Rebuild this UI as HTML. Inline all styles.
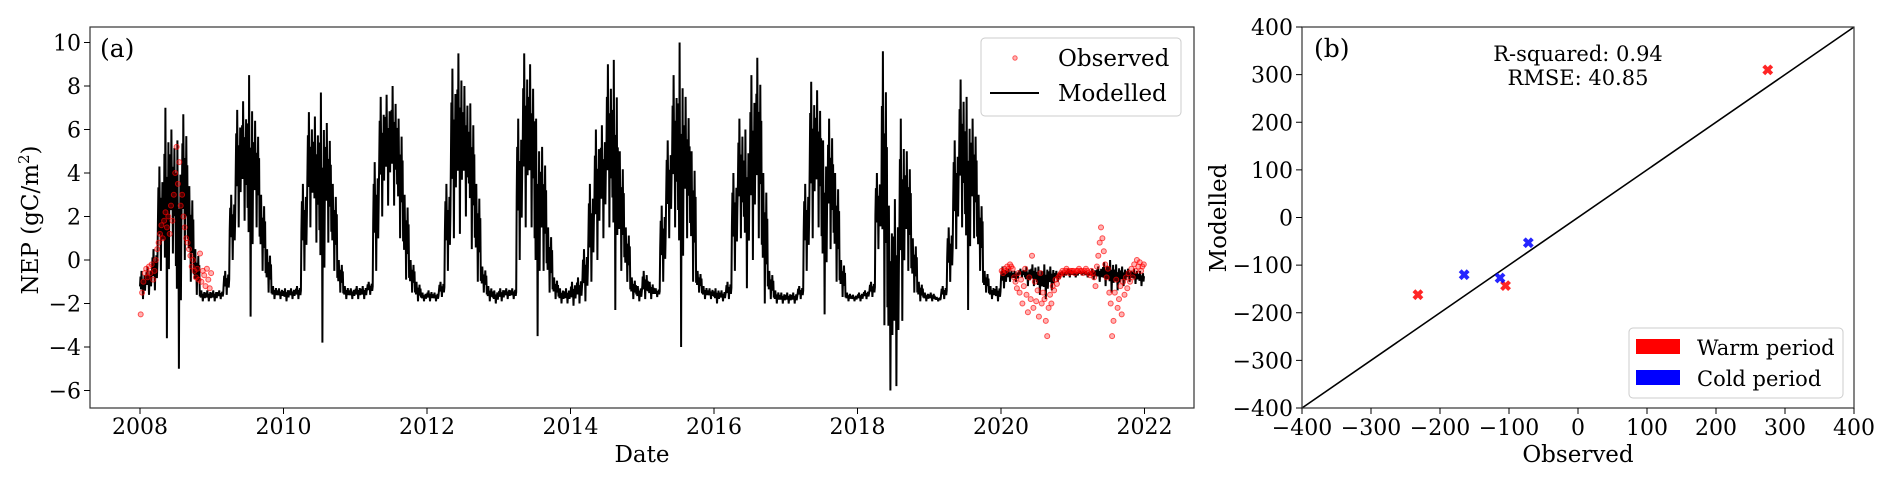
<!DOCTYPE html>
<html><head><meta charset="utf-8">
<style>
html,body{margin:0;padding:0;background:#fff;}
svg{display:block;font-family:"DejaVu Serif","Liberation Serif",serif;}
</style></head>
<body>
<svg id="fig" width="1892" height="481" viewBox="0 0 1892 481" xmlns="http://www.w3.org/2000/svg"></svg>
<script>
// ---------- Panel (a) data ----------
const years = [2008,2009,2010,2011,2012,2013,2014,2015,2016,2017,2018,2019,2020,2021];
const modelHi = [
-0.5,-0.3,0.5,4.3,7.0,6.0,5.5,6.7,3.4,0.5,-1.4,-1.4,
-1.4,-1.4,-0.5,3.0,6.9,7.3,8.5,6.4,3.0,0.5,-1.2,-1.3,
-1.3,-1.3,-1.2,3.5,6.8,6.6,7.7,6.3,3.5,0.0,-1.2,-1.3,
-1.2,-1.2,-1.0,4.5,7.5,7.6,8.0,6.5,3.0,0.0,-1.0,-1.5,
-1.4,-1.5,-1.0,3.5,8.8,9.5,8.0,7.2,3.5,-0.3,-1.2,-1.4,
-1.3,-1.3,-1.3,6.5,9.5,9.0,6.5,5.2,1.5,-0.8,-1.3,-1.3,
-1.0,-0.8,0.5,3.5,6.0,6.2,9.0,9.2,5.0,1.5,-0.8,-1.2,
-0.5,-1.0,-1.3,2.5,5.5,8.5,10.0,7.5,5.0,-0.5,-1.2,-1.3,
-1.3,-1.4,-1.0,4.0,6.5,6.0,8.5,9.3,4.0,-0.5,-1.4,-1.5,
-1.5,-1.5,-1.2,3.5,8.2,7.8,5.5,6.5,4.0,0.0,-1.5,-1.6,
-1.5,-1.4,-1.0,4.0,9.6,2.5,2.8,6.5,5.0,1.0,-1.0,-1.5,
-1.5,-1.7,-1.2,1.5,5.5,8.3,7.5,6.5,3.0,-0.5,-1.2,-1.2,
-0.3,-0.4,-0.5,-0.4,-0.3,-0.2,-0.3,-0.2,-0.3,-0.5,-0.5,-0.4,
-0.5,-0.5,-0.5,-0.4,-0.3,-0.1,0.0,-0.2,-0.3,-0.4,-0.4,-0.5];
const modelLo = [
-1.8,-1.6,-1.4,-0.5,-3.6,0.3,-5.0,0.0,-1.0,-1.6,-1.9,-1.9,
-1.9,-1.8,-1.6,0.0,1.5,1.8,-2.6,1.5,-0.5,-1.5,-1.8,-1.8,
-1.9,-1.8,-1.8,-0.5,1.5,0.8,-3.8,0.8,-0.5,-1.5,-1.8,-1.8,
-1.8,-1.8,-1.6,-0.5,2.0,2.5,2.5,1.0,-0.9,-1.5,-1.9,-1.9,
-1.9,-1.9,-1.7,-0.5,1.0,1.2,2.0,0.5,-1.0,-1.5,-1.9,-2.0,
-1.9,-1.8,-1.8,0.0,1.5,1.5,-3.5,-0.5,-1.5,-1.8,-2.0,-2.0,
-2.1,-2.0,-1.9,-1.0,0.0,1.0,1.5,-2.3,-0.5,-1.0,-1.8,-1.9,
-1.8,-1.8,-1.7,-1.0,1.0,1.5,-4.0,1.0,-1.0,-1.5,-1.8,-1.8,
-2.0,-1.9,-1.8,-0.5,1.0,-1.3,0.0,1.0,-2.0,-1.8,-2.0,-2.0,
-2.0,-2.0,-1.8,-0.5,1.0,1.5,-2.5,0.5,-1.0,-1.7,-1.9,-1.9,
-1.9,-1.8,-1.7,0.5,-3.0,-6.0,-5.8,-2.8,-0.5,-1.5,-1.9,-1.9,
-1.9,-1.9,-1.8,-1.0,0.5,1.5,-2.3,1.0,-0.5,-1.5,-1.8,-1.9,
-1.3,-1.0,-1.0,-0.8,-1.2,-1.2,-1.6,-1.8,-1.4,-1.0,-0.8,-0.8,
-0.8,-0.7,-0.8,-0.9,-1.0,-1.2,-1.5,-1.4,-1.2,-1.0,-1.1,-1.2];
const obs2008 = [
-2.5,-1.5,-1.0,-0.6,-0.4,-0.8,-0.3,-0.6,-0.2,-0.9,-0.5,0.0,
0.5,0.8,1.2,1.6,1.0,1.8,2.2,1.5,2.0,1.2,2.5,1.8,
3.0,4.0,5.2,3.5,4.5,2.5,3.0,2.0,1.5,1.0,0.8,0.5,
0.2,-0.3,0.0,-0.5,-0.8,-0.4,-0.9,0.3,-1.0,-0.5,-0.7,-1.2,-0.4,-0.9,-1.3,-0.6];
const obs2020 = [
-0.5,-0.6,-0.4,-0.5,-0.3,-0.4,-0.2,-0.3,-0.4,-0.8,-1.0,-1.3,
-0.6,-1.5,-0.9,-2.0,-1.2,-0.4,-1.6,-2.4,-0.8,-1.8,0.2,-2.2,
-1.0,-1.9,-1.4,-2.6,-0.6,-2.0,-1.5,-1.8,-2.8,-3.5,-2.2,-1.6,
-2.0,-1.2,-1.4,-0.9,-1.1,-0.8,-0.7,-0.6,-0.5,-0.6,-0.5,-0.4,-0.5,-0.6,-0.5,-0.5];
const obs2021 = [
-0.5,-0.6,-0.5,-0.5,-0.4,-0.5,-0.5,-0.6,-0.5,-0.4,-0.5,-0.6,
-0.7,-0.5,-0.6,-0.8,-1.2,-0.3,0.2,0.8,1.5,1.0,0.4,-0.2,
-0.8,-0.4,-1.5,-2.0,-3.5,-2.8,-1.5,-0.9,-2.2,-1.8,-1.2,-2.5,
-1.0,-1.6,-0.8,-1.3,-0.6,-1.0,-0.4,-0.8,-0.2,-0.5,0.0,-0.3,-0.1,-0.5,-0.3,-0.2];
const aXTicks = [2008,2010,2012,2014,2016,2018,2020,2022];
const aYTicks = [-6,-4,-2,0,2,4,6,8,10];

// ---------- Panel (b) data ----------
const warmObs = [-232,-105,275];
const warmMod = [-162,-143,310];
const coldObs = [-165,-113,-72];
const coldMod = [-120,-127,-53];
const bTicks = [-400,-300,-200,-100,0,100,200,300,400];

const NS="http://www.w3.org/2000/svg";
const svg=document.getElementById('fig');
function mk(tag,attrs,parent){const e=document.createElementNS(NS,tag);for(const k in attrs)e.setAttribute(k,attrs[k]);(parent||svg).appendChild(e);return e;}
function txt(s,attrs,parent){const e=mk('text',attrs,parent);e.textContent=s;return e;}

// ---- Panel (a) axes ----
const A={l:90,r:1194,t:27,b:408};
const ax=t=>140+(t-2008)*71.75;
const ay=v=>260-v*21.75;
const gA=mk('g',{});



// modelled line: within each month, wiggle between monthly low and high (drawing texture only)
const wig=[0.45,0.8,0.35,1.0,0.5,0.7,0.0,0.6,0.4,0.85,0.3,0.65];
let d='';
for(let m=0;m<modelHi.length;m++){
  for(let k=0;k<wig.length;k++){
    const t=2008+m/12+k/(12*wig.length);
    const v=modelLo[m]+(modelHi[m]-modelLo[m])*wig[k];
    d+=(d?'L':'M')+ax(t).toFixed(1)+','+ay(v).toFixed(1);
  }
}
const ml=mk('path',{d:d,fill:'none',stroke:'#000','stroke-width':2,'stroke-linejoin':'bevel'},gA);



// observed points
const gObs=mk('g',{fill:'rgba(255,0,0,0.3)',stroke:'rgba(255,0,0,0.65)','stroke-width':1},gA);


function plotObs(arr,y0){arr.forEach((v,i)=>{const c=mk('circle',{cx:ax(y0+(i+0.5)/52).toFixed(1),cy:ay(v).toFixed(1),r:2.5},gObs);

});}
plotObs(obs2008,2008);plotObs(obs2020,2020);plotObs(obs2021,2021);

const frA=mk('rect',{x:A.l,y:A.t,width:A.r-A.l,height:A.b-A.t,fill:'none',stroke:'#333','stroke-width':1.2},gA);


aXTicks.forEach(t=>{const x=ax(t);mk('line',{x1:x,x2:x,y1:A.b,y2:A.b+6,stroke:'#000'},gA);
const l=txt(String(t),{x:x,y:A.b+26,'text-anchor':'middle','font-size':22},gA);

});
aYTicks.forEach(v=>{const y=ay(v);mk('line',{x1:A.l-6,x2:A.l,y1:y,y2:y,stroke:'#000'},gA);
const l=txt(v<0?'\u2212'+(-v):String(v),{x:A.l-9,y:y+8,'text-anchor':'end','font-size':22},gA);

});
const xt=txt('Date',{x:(A.l+A.r)/2,y:462,'text-anchor':'middle','font-size':23},gA);


const yt=mk('text',{transform:'translate(38,220) rotate(-90)','text-anchor':'middle','font-size':23},gA);
yt.innerHTML='NEP (gC/m<tspan dy="-9" font-size="15">2</tspan><tspan dy="9">)</tspan>';


const pa=txt('(a)',{x:100,y:57,'font-size':25},gA);


// legend a
const lgA=mk('g',{},gA);


mk('rect',{x:981,y:38,width:200,height:78,rx:4,fill:'#fff',stroke:'#ccc'},lgA);
mk('circle',{cx:1015,cy:58,r:2.2,fill:'rgba(255,0,0,0.3)',stroke:'rgba(255,0,0,0.6)'},lgA);
txt('Observed',{x:1058,y:66,'font-size':23},lgA);
mk('line',{x1:990,x2:1039,y1:93,y2:93,stroke:'#000','stroke-width':2},lgA);
txt('Modelled',{x:1058,y:101,'font-size':23},lgA);

// ---- Panel (b) ----
const B={l:1302,r:1854,t:27,b:408};
const bx=v=>B.l+(v+400)/800*(B.r-B.l);
const by=v=>B.b-(v+400)/800*(B.b-B.t);
const gB=mk('g',{});


const one=mk('line',{x1:bx(-400),y1:by(-400),x2:bx(400),y2:by(400),stroke:'#000','stroke-width':1.6},gB);


function cross(x,y,col,name){const g=mk('g',{stroke:col,'stroke-width':4,opacity:0.85},gB);


mk('line',{x1:x-4,y1:y-4,x2:x+4,y2:y+4},g);mk('line',{x1:x-4,y1:y+4,x2:x+4,y2:y-4},g);}
warmObs.forEach((o,i)=>cross(bx(o),by(warmMod[i]),'#f00','warm-point'));
coldObs.forEach((o,i)=>cross(bx(o),by(coldMod[i]),'#00f','cold-point'));
const frB=mk('rect',{x:B.l,y:B.t,width:B.r-B.l,height:B.b-B.t,fill:'none',stroke:'#333','stroke-width':1.2},gB);


bTicks.forEach(v=>{const s=v<0?'\u2212'+(-v):String(v);
let x=bx(v);mk('line',{x1:x,x2:x,y1:B.b,y2:B.b+6,stroke:'#000'},gB);
const l1=txt(s,{x:x,y:B.b+27,'text-anchor':'middle','font-size':22},gB);


let y=by(v);mk('line',{x1:B.l-6,x2:B.l,y1:y,y2:y,stroke:'#000'},gB);
const l2=txt(s,{x:B.l-9,y:y+8,'text-anchor':'end','font-size':22},gB);

});
const bxt=txt('Observed',{x:(B.l+B.r)/2,y:462,'text-anchor':'middle','font-size':23},gB);


const byt=txt('Modelled',{transform:'translate(1226,218) rotate(-90)','text-anchor':'middle','font-size':23},gB);


const pb=txt('(b)',{x:1314,y:57,'font-size':25},gB);


const r2=txt('R-squared: 0.94',{x:1578,y:61,'text-anchor':'middle','font-size':21},gB);


const rm=txt('RMSE: 40.85',{x:1578,y:85,'text-anchor':'middle','font-size':21},gB);


const lgB=mk('g',{},gB);


mk('rect',{x:1629,y:328,width:214,height:70,rx:4,fill:'#fff',stroke:'#ccc'},lgB);
mk('rect',{x:1636,y:339,width:44,height:15,fill:'#f00'},lgB);
txt('Warm period',{x:1697,y:355,'font-size':21},lgB);
mk('rect',{x:1636,y:370,width:44,height:15,fill:'#00f'},lgB);
txt('Cold period',{x:1697,y:386,'font-size':21},lgB);
</script>
</body></html>
